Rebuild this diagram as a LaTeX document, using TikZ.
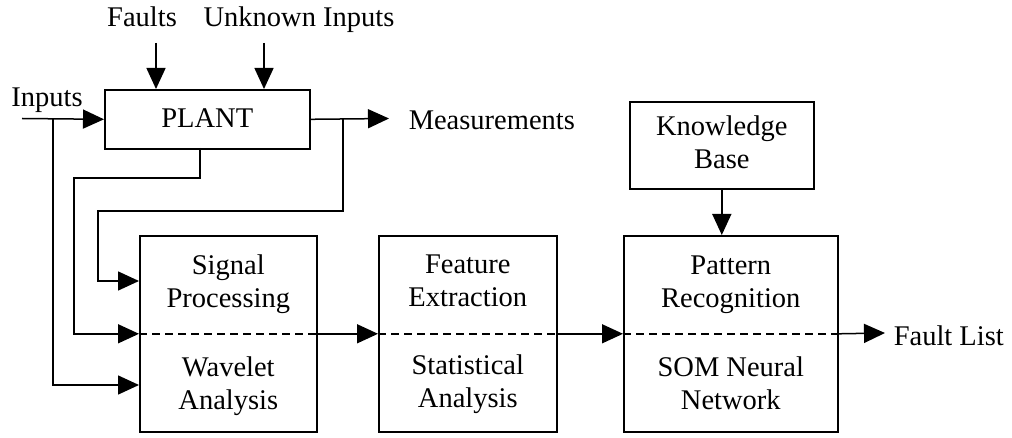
\documentclass[tikz,border=0pt]{standalone}
\usepackage{fontspec}
\setmainfont{Liberation Serif}
\usetikzlibrary{arrows.meta}
\begin{document}
\begin{tikzpicture}[x=1pt,y=-1pt,
  line width=1.5pt,
  arr/.style={-{Triangle[length=21pt,width=19pt]}},
  block/.style={draw, line width=1.6pt, inner sep=0pt, anchor=north west},
  txt/.style={font=\fontsize{28.5}{33}\selectfont, inner sep=0pt},
  lines/.style={txt, align=center},
  split/.style={dash pattern=on 8pt off 5pt, line width=1.5pt}]
\useasboundingbox (0,0) rectangle (1012,438);

% blocks
\node[block, minimum width=205pt, minimum height=59pt] (plant) at (104,89) {};
\node[block, minimum width=177pt, minimum height=196pt] (sig)  at (139,235) {};
\node[block, minimum width=178pt, minimum height=196pt] (feat) at (378,235) {};
\node[block, minimum width=214pt, minimum height=196pt] (pat)  at (623,235) {};
\node[block, minimum width=184pt, minimum height=87pt]  (kb)   at (629,101) {};

% block texts
\node[txt, anchor=base] (plantT) at (plant.center |- 0,128) {PLANT};
\node[lines] (sigT)  at (sig.center  |- 0,284) {\strut Signal\\\strut Processing};
\node[lines] (sigB)  at (sig.center  |- 0,386) {\strut Wavelet\\\strut Analysis};
\node[lines] (featT) at (feat.center |- 0,283) {\strut Feature\\\strut Extraction};
\node[lines] (featB) at (feat.center |- 0,384) {\strut Statistical\\\strut Analysis};
\node[lines] (patT)  at (pat.center  |- 0,284) {\strut Pattern\\\strut Recognition};
\node[lines] (patB)  at (pat.center  |- 0,386) {\strut SOM Neural\\\strut Network};
\node[lines] (kbT)   at (kb.center)            {\strut Knowledge\\\strut Base};

% free labels
\node[txt, anchor=base] (faults)  at (142,27)  {Faults};
\node[txt, anchor=base] (unknown) at (299,27)  {Unknown Inputs};
\node[txt, anchor=base] (inputs)  at (47,107)  {Inputs};
\node[txt, anchor=base west] (meas) at (408,130) {Measurements};
\node[txt, anchor=base west] (flist) at (893,345) {Fault List};

% dashed split inside the processing blocks
\foreach \b in {sig,feat,pat}
  \draw[split] (\b.west) -- (\b.east);

% disturbances into the plant
\coordinate (fTop) at (156,43);
\coordinate (uTop) at (264,43);
\draw[arr] (fTop) -- (fTop |- plant.north);
\draw[arr] (uTop) -- (uTop |- plant.north);

% plant inputs and branch to wavelet analysis
\coordinate (inL) at (22,118.5);
\coordinate (inJ) at (53,118.5);
\coordinate (sigLow) at (139,385);
\draw[arr] (inL) -- (plant.west);
\draw[arr] (inJ) |- (sigLow);

% plant internal signal to the middle input
\coordinate (pOut) at (200,148);
\coordinate (pBend) at (74,178);
\draw[arr] (pOut) |- (pBend) |- (sig.west);

% measurements output and feedback to signal processing
\coordinate (mEnd) at (389,118.5);
\coordinate (mJ) at (343,118.5);
\coordinate (mBend) at (98,211);
\coordinate (sigHigh) at (139,281);
\draw[arr] (plant.east) -- (mEnd);
\draw[arr] (mJ) |- (mBend) |- (sigHigh);

% chain of processing stages
\draw[arr] (sig.east) -- (feat.west);
\draw[arr] (feat.east) -- (pat.west);
\coordinate (fOut) at (885,333);
\draw[arr] (pat.east) -- (fOut);
\draw[arr] (kb.south) -- (kb.south |- pat.north);
\end{tikzpicture}
\end{document}
